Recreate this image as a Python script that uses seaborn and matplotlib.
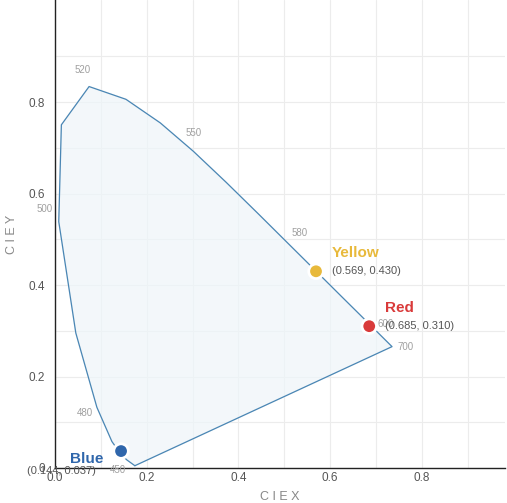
import numpy as np
import pandas as pd
import seaborn as sns
import matplotlib
matplotlib.use("Agg")
import matplotlib.pyplot as plt

# Spectral locus (CIE 1931 chromaticity), wavelengths in nm
wavelengths = [380, 450, 460, 470, 480, 490, 500, 510, 520, 530, 540, 550,
               560, 570, 580, 590, 600, 610, 620, 700]
locus_x = [0.1741, 0.1566, 0.1440, 0.1241, 0.0913, 0.0454, 0.0082, 0.0139,
           0.0743, 0.1547, 0.2296, 0.3016, 0.3731, 0.4441, 0.5125, 0.5752,
           0.6270, 0.6658, 0.6915, 0.7347]
locus_y = [0.0050, 0.0177, 0.0297, 0.0578, 0.1327, 0.2950, 0.5384, 0.7502,
           0.8338, 0.8059, 0.7543, 0.6923, 0.6245, 0.5547, 0.4866, 0.4242,
           0.3725, 0.3340, 0.3083, 0.2653]

# Wavelengths that get a text label, with label offsets in points
label_wl = [450, 480, 500, 520, 550, 580, 600, 700]
label_dx = [-6.5, -9, -10, -5, 0, 7, 31, 9.5]
label_dy = [-7, -4, 9, 12, 13, 9, -19, 0]

# Primary colour points
point_names = ["Blue", "Yellow", "Red"]
point_x = [0.144, 0.569, 0.685]
point_y = [0.037, 0.430, 0.310]
point_colors = ["#2f66ab", "#e8b93b", "#d93a3a"]

sns.set_theme(style="whitegrid")
plt.rcParams["font.family"] = ["Liberation Sans", "DejaVu Sans"]

fig = plt.figure(figsize=(5.07, 5.03), dpi=100)
ax = fig.add_axes([55 / 507, 35 / 503, 450 / 507, 468 / 503])

locus = pd.DataFrame({"x": locus_x + [locus_x[0]], "y": locus_y + [locus_y[0]]})
ax.fill(locus_x, locus_y, color="#eef5f9", alpha=0.7, zorder=1)
sns.lineplot(data=locus, x="x", y="y", sort=False, estimator=None,
             color="#4a86b4", linewidth=0.9, ax=ax, zorder=2)

for wl, dx, dy in zip(label_wl, label_dx, label_dy):
    i = wavelengths.index(wl)
    ax.annotate(str(wl), (locus_x[i], locus_y[i]), xytext=(dx, dy),
                textcoords="offset points", ha="center", va="center",
                fontsize=7, color="#a0a0a0", zorder=3)

pts = pd.DataFrame({"x": point_x, "y": point_y, "name": point_names})
sns.scatterplot(data=pts, x="x", y="y", hue="name", palette=point_colors,
                s=110, edgecolor="white", linewidth=2, legend=False,
                ax=ax, zorder=5)

for name, px, py, c in zip(point_names, point_x, point_y, point_colors):
    if name == "Blue":
        name_off, coord_off = (-37, -6), (-68, -14)
    else:
        name_off, coord_off = (11.5, 13), (11.5, 0)
    ax.annotate(name, (px, py), xytext=name_off, textcoords="offset points",
                ha="left", va="center", fontsize=11, fontweight="bold",
                color=c, zorder=4)
    ax.annotate(f"({px:.3f}, {py:.3f})", (px, py), xytext=coord_off,
                textcoords="offset points", ha="left", va="center",
                fontsize=8, color="#555555", zorder=4)

ticks = np.arange(0, 1.0, 0.1)
ax.set_xlim(0, 0.981)
ax.set_ylim(0, 1.023)
ax.set_xticks(ticks)
ax.set_yticks(ticks)
ax.set_xticklabels(["0.0" if abs(v) < 1e-9 else (f"{v:.1f}" if round(v * 10) % 2 == 0 else "")
                    for v in ticks])
ax.set_yticklabels(["0" if abs(v) < 1e-9 else (f"{v:.1f}" if round(v * 10) % 2 == 0 else "")
                    for v in ticks])
ax.grid(True, color="#ececec", linewidth=0.8)
ax.set_axisbelow(True)

for side in ["top", "right"]:
    ax.spines[side].set_visible(False)
for side in ["left", "bottom"]:
    ax.spines[side].set_visible(True)
    ax.spines[side].set_color("#222222")
    ax.spines[side].set_linewidth(1.0)

ax.tick_params(axis="both", which="major", labelsize=8.5, labelcolor="#555555",
               length=4, width=0.8, color="#444444")
ax.tick_params(axis="x", direction="inout", pad=1)
ax.tick_params(axis="y", direction="out", pad=3)

ax.set_xlabel("C I E X", fontsize=9, color="#888888", labelpad=5)
ax.set_ylabel("C I E Y", fontsize=9, color="#888888", labelpad=8)

fig.savefig("out.png", dpi=100, facecolor="white")
